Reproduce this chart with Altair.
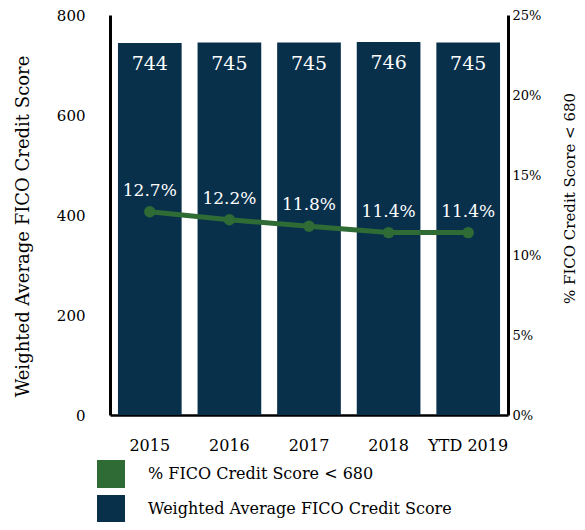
import altair as alt
import pandas as pd

years = ["2015", "2016", "2017", "2018", "YTD 2019"]
fico_avg = [744, 745, 745, 746, 745]
pct_below_680 = [12.7, 12.2, 11.8, 11.4, 11.4]
pct_labels = ["12.7%", "12.2%", "11.8%", "11.4%", "11.4%"]
left_ticks = [0, 200, 400, 600, 800]
right_ticks = [0, 5, 10, 15, 20, 25]
series_names = ["% FICO Credit Score < 680", "Weighted Average FICO Credit Score"]

NAVY = "#08304b"
GREEN = "#2e6b35"
FONT = "DejaVu Serif"

df = pd.DataFrame({"year": years, "fico": fico_avg, "pct": pct_below_680, "pct_label": pct_labels})

x = alt.X("year:N", sort=years, title=None,
          scale=alt.Scale(paddingInner=0.2, paddingOuter=0.1),
          axis=alt.Axis(labelAngle=0, ticks=False, domainColor="black", domainWidth=2.5,
                        labelPadding=22, labelFontSize=16, labelColor="black", labelFont=FONT))

bars = alt.Chart(df).mark_bar().encode(
    x=x,
    y=alt.Y("fico:Q", title="Weighted Average FICO Credit Score",
            scale=alt.Scale(domain=[0, 800], nice=False),
            axis=alt.Axis(values=left_ticks, orient="left", grid=False, ticks=False,
                          domainColor="black", domainWidth=3, labelPadding=25,
                          labelFontSize=15, titleFontSize=18, titleFontWeight="normal",
                          titleX=-87, titleY=211, titleBaseline="middle",
                          labelColor="black", titleColor="black",
                          labelFont=FONT, titleFont=FONT)),
    color=alt.Color("series:N", scale=alt.Scale(domain=series_names, range=[GREEN, NAVY]),
                    legend=alt.Legend(title=None, orient="none", legendX=-13, legendY=445,
                                      direction="vertical", symbolType="square",
                                      symbolSize=784, symbolStrokeWidth=0, symbolOpacity=1,
                                      labelFontSize=16, labelFont=FONT, labelColor="black",
                                      labelOffset=23, rowPadding=7, padding=0,
                                      labelLimit=400)),
).transform_calculate(series="'Weighted Average FICO Credit Score'")

bar_text = alt.Chart(df).mark_text(color="white", fontSize=19, dy=21, font=FONT).encode(
    x=alt.X("year:N", sort=years),
    y=alt.Y("fico:Q", scale=alt.Scale(domain=[0, 800], nice=False)),
    text="fico:Q",
)

left = alt.layer(bars, bar_text)

y_r = alt.Y("pct:Q", title="% FICO Credit Score < 680",
            scale=alt.Scale(domain=[0, 25], nice=False),
            axis=alt.Axis(values=right_ticks, orient="right", grid=False, ticks=False,
                          domainColor="black", domainWidth=3, labelPadding=4,
                          labelFontSize=13, labelExpr="datum.value + '%'",
                          titleFontSize=15, titleFontWeight="normal", titleAngle=270,
                          titleX=61, titleY=183, titleBaseline="middle",
                          labelColor="black", titleColor="black",
                          labelFont=FONT, titleFont=FONT))

line = alt.Chart(df).mark_line(color=GREEN, strokeWidth=5, point=alt.OverlayMarkDef(color=GREEN, size=130, filled=True, opacity=1)).encode(
    x=alt.X("year:N", sort=years), y=y_r)

line_text = alt.Chart(df).mark_text(color="white", fontSize=17, dy=-21, font=FONT).encode(
    x=alt.X("year:N", sort=years),
    y=alt.Y("pct:Q"),
    text="pct_label:N",
)

right = alt.layer(line, line_text)

chart = alt.layer(left, right).resolve_scale(y="independent").properties(
    width=398, height=400,
    autosize=alt.AutoSizeParams(type="none"),
    padding={"left": 102, "top": 7, "right": 69, "bottom": 107},
    background="white",
).configure_view(stroke=None)

chart.save("out.html", embed_options={"renderer": "svg", "actions": False})
